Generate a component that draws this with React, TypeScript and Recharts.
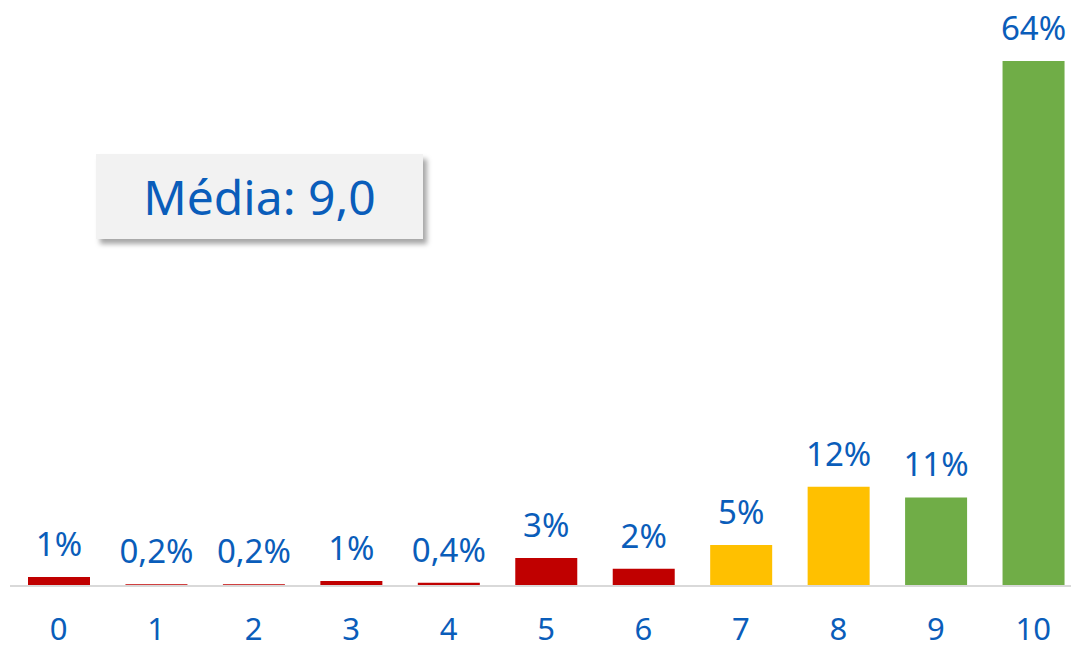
import React from 'react';
import { BarChart, Bar, XAxis, YAxis, Cell, LabelList } from 'recharts';

const notas = ['0', '1', '2', '3', '4', '5', '6', '7', '8', '9', '10'];
const valores = [1.1, 0.2, 0.2, 0.6, 0.4, 3.4, 2.1, 5.0, 12.1, 10.8, 64.0];
const rotulos = ['1%', '0,2%', '0,2%', '1%', '0,4%', '3%', '2%', '5%', '12%', '11%', '64%'];
const cores = [
  '#C00000', '#C00000', '#C00000', '#C00000', '#C00000', '#C00000', '#C00000',
  '#FFC000', '#FFC000', '#70AD47', '#70AD47'
];

const AZUL = '#0A5DBA';
const FONTE = '"Noto Sans", "Open Sans", sans-serif';

const data = notas.map((n, i) => ({ nota: n, valor: valores[i], rotulo: rotulos[i] }));

export default function App() {
  return (
    <div
      style={{
        position: 'absolute',
        top: 0,
        left: 0,
        width: 1071,
        height: 649,
        overflow: 'hidden',
        background: '#fff',
        fontFamily: FONTE
      }}
    >
      <BarChart
        width={1100}
        height={649}
        data={data}
        margin={{ top: 61, right: 18, left: 10, bottom: 0 }}
      >
        <XAxis
          dataKey="nota"
          height={63}
          axisLine={{ stroke: '#D9D9D9', strokeWidth: 2 }}
          tickLine={false}
          tickMargin={26}
          tick={{ fill: AZUL, fontSize: 31, fontFamily: FONTE }}
          interval={0}
        />
        <YAxis hide domain={[0, 64]} />
        <Bar dataKey="valor" barSize={62} isAnimationActive={false}>
          {data.map((d, i) => (
            <Cell key={`c-${i}`} fill={cores[i]} />
          ))}
          <LabelList
            dataKey="rotulo"
            position="top"
            offset={21}
            fill={AZUL}
            fontSize={33}
            fontFamily={FONTE}
          />
        </Bar>
      </BarChart>
      <div
        style={{
          position: 'absolute',
          left: 96,
          top: 154,
          width: 327,
          height: 85,
          background: '#F2F2F2',
          boxShadow: '4px 5px 5px rgba(0,0,0,0.35)',
          display: 'flex',
          alignItems: 'center',
          justifyContent: 'center',
          color: AZUL,
          fontSize: 48,
          lineHeight: 1,
          fontFamily: FONTE
        }}
      >
        Média: 9,0
      </div>
    </div>
  );
}
